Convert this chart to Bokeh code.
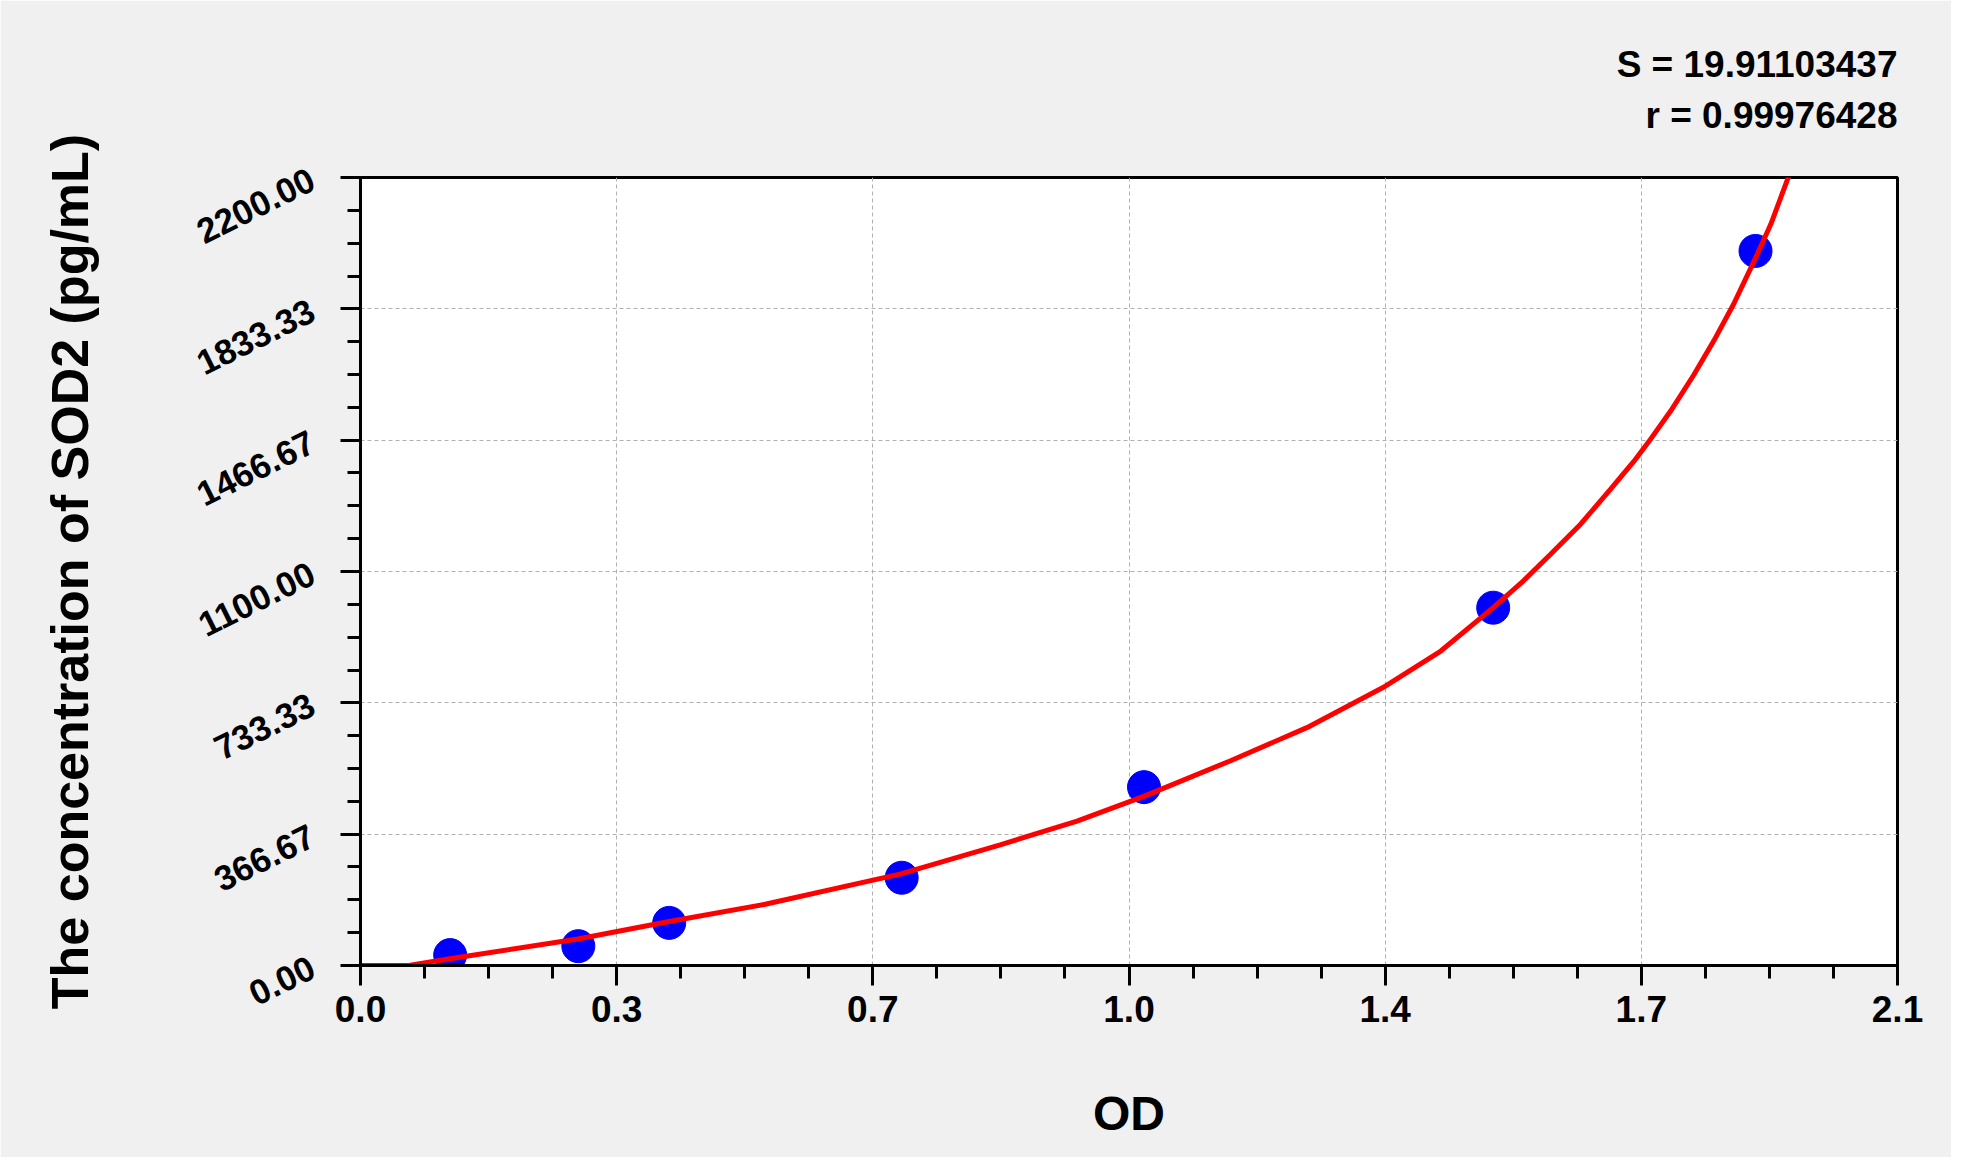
from bokeh.plotting import figure
from bokeh.models import FixedTicker, Range1d, Title
from bokeh.embed import file_html
from bokeh.resources import INLINE

# ---- data ----
std_od = [0.1225, 0.2976, 0.4218, 0.7394, 1.0705, 1.5476, 1.906]
std_conc = [29, 54, 119, 245, 498, 999, 1995]

curve_od = [0.0, 0.066, 0.122, 0.297, 0.420, 0.553, 0.737, 0.874, 0.979, 1.071,
            1.188, 1.293, 1.397, 1.476, 1.548, 1.587, 1.626, 1.667, 1.708, 1.740,
            1.760, 1.790, 1.822, 1.849, 1.876, 1.906, 1.927, 1.954]
curve_conc = [0, 0, 19, 74, 122, 171, 255, 337, 403, 473,
              571, 664, 776, 878, 1000, 1070, 1148, 1232, 1330, 1408,
              1462, 1548, 1650, 1744, 1846, 1975, 2070, 2218]

x_ticks = [0.0, 0.35, 0.7, 1.05, 1.4, 1.75, 2.1]
x_tick_labels = ["0.0", "0.3", "0.7", "1.0", "1.4", "1.7", "2.1"]
y_ticks = [0.0, 366.67, 733.33, 1100.0, 1466.67, 1833.33, 2200.0]
y_tick_labels = ["0.00", "366.67", "733.33", "1100.00", "1466.67", "1833.33", "2200.00"]

stat_s = "S = 19.91103437"
stat_r = "r = 0.99976428"

FONT = "Liberation Sans"

p = figure(width=1951, height=1157, output_backend="svg", toolbar_location=None,
           x_range=Range1d(0, 2.1), y_range=Range1d(0, 2200),
           min_border_left=360, min_border_right=54, min_border_top=177,
           min_border_bottom=192)

p.background_fill_color = "white"
p.border_fill_color = "#f0f0f0"
p.outline_line_color = "black"
p.outline_line_width = 3

# ticks
xminor = [x_ticks[i] + (x_ticks[i + 1] - x_ticks[i]) * k / 4
          for i in range(len(x_ticks) - 1) for k in range(1, 4)]
yminor = [y_ticks[i] + (y_ticks[i + 1] - y_ticks[i]) * k / 4
          for i in range(len(y_ticks) - 1) for k in range(1, 4)]
p.xaxis.ticker = FixedTicker(ticks=x_ticks, minor_ticks=xminor)
p.yaxis.ticker = FixedTicker(ticks=y_ticks, minor_ticks=yminor)
p.xaxis.major_label_overrides = dict(zip(x_ticks, x_tick_labels))
p.yaxis.major_label_overrides = dict(zip(y_ticks, y_tick_labels))

for ax in (p.xaxis, p.yaxis):
    ax.axis_line_width = 3
    ax.axis_line_color = "black"
    ax.major_tick_line_width = 3
    ax.minor_tick_line_width = 3
    ax.major_tick_line_color = "black"
    ax.minor_tick_line_color = "black"
    ax.major_tick_out = 20
    ax.major_tick_in = 0
    ax.minor_tick_out = 13
    ax.minor_tick_in = 0
    ax.major_label_text_font = FONT
    ax.major_label_text_font_style = "bold"
    ax.major_label_text_color = "black"
    ax.axis_label_text_font = FONT
    ax.axis_label_text_font_style = "bold"
    ax.axis_label_text_color = "black"

p.xaxis.major_label_text_font_size = "37px"
p.yaxis.major_label_text_font_size = "35px"
p.yaxis.major_label_orientation = 0.46
p.xaxis.major_label_standoff = 10
p.yaxis.major_label_standoff = 28

p.xaxis.axis_label = "OD"
p.xaxis.axis_label_text_font_size = "48px"
p.xaxis.axis_label_standoff = 62
p.yaxis.axis_label = "The concentration of SOD2 (pg/mL)"
p.yaxis.axis_label_text_font_size = "52px"
p.yaxis.axis_label_standoff = 86

p.grid.grid_line_color = "#b0b0b0"
p.grid.grid_line_width = 1
p.grid.grid_line_dash = "4 3"

p.scatter(std_od, std_conc, size=33, marker="circle", fill_color="#0000ff",
          line_color="#0000ff")
p.line(curve_od, curve_conc, line_color="#ff0000", line_width=5)

# statistics, stacked above the frame (first added sits closest to the frame)
p.add_layout(Title(text=stat_r, align="right", standoff=84, text_font=FONT,
                   text_font_style="bold", text_font_size="37px",
                   text_color="black"), "above")
p.add_layout(Title(text=stat_s, align="right", standoff=-69, text_font=FONT,
                   text_font_style="bold", text_font_size="37px",
                   text_color="black"), "above")

open("out.html", "w").write(file_html(p, INLINE))
